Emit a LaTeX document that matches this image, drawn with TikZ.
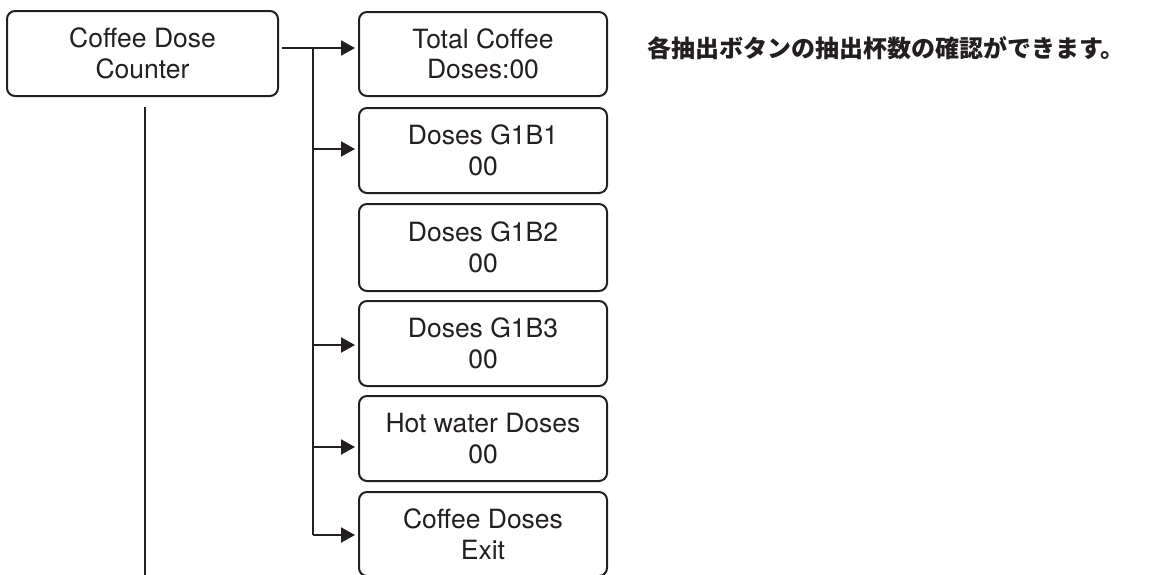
\documentclass[tikz,border=0pt]{standalone}
\usepackage{fontspec}
\setmainfont{TeX Gyre Heros}
\newfontfamily\cjk{Noto Sans CJK JP}
\usetikzlibrary{arrows.meta}
\definecolor{ink}{HTML}{231F20}
\begin{document}
\begin{tikzpicture}[x=1pt,y=-1pt,
  box/.style={draw=ink,line width=2pt,rounded corners=8pt,minimum width=271pt,
    align=center,text=ink,font=\fontsize{26.5}{30.5}\selectfont,inner sep=0pt},
  rbox/.style={box,minimum width=248pt},
  conn/.style={draw=ink,line width=2pt},
  arr/.style={-{Triangle[length=14pt,width=15pt]},shorten >=3pt}]
\useasboundingbox (0,0) rectangle (1162,574);
\node[box,minimum height=85pt] (cdc) at (142.5,53.5) {Coffee Dose\\Counter};
\node[rbox,minimum height=84pt] (b1) at (483,54) {Total Coffee\\Doses:00};
\node[rbox,minimum height=85pt] (b2) at (483,150.5) {Doses G1B1\\00};
\node[rbox,minimum height=87pt] (b3) at (483,247.5) {Doses G1B2\\00};
\node[rbox,minimum height=85pt] (b4) at (483,343.5) {Doses G1B3\\00};
\node[rbox,minimum height=85pt] (b5) at (483,438.5) {Hot water Doses\\00};
\node[rbox,minimum height=84pt] (b6) at (483,534) {Coffee Doses\\Exit};
\node[anchor=west,text=ink,font=\cjk\bfseries\fontsize{24}{28}\selectfont,inner sep=0pt] (note) at (647,48) {各抽出ボタンの抽出杯数の確認ができます。};
\coordinate (a1) at ([yshift=6pt]b1.west);
\coordinate (a2) at ([yshift=1.5pt]b2.west);
\coordinate (a4) at ([yshift=-1.5pt]b4.west);
\coordinate (a5) at ([yshift=-8.5pt]b5.west);
\coordinate (a6) at ([yshift=-1pt]b6.west);
\coordinate (tr) at (313,0);
\coordinate (s1) at ([xshift=3pt]cdc.east |- a1);
\draw[conn,arr] (s1) -- (a1);
\draw[conn] (tr |- a1) -- (tr |- a6);
\foreach \i in {2,4,5,6} \draw[conn,arr] (tr |- a\i) -- (a\i);
\coordinate (lstart) at (145,107);
\coordinate (lend) at (145,580);
\draw[conn] (lstart) -- (lend);
\end{tikzpicture}
\end{document}
